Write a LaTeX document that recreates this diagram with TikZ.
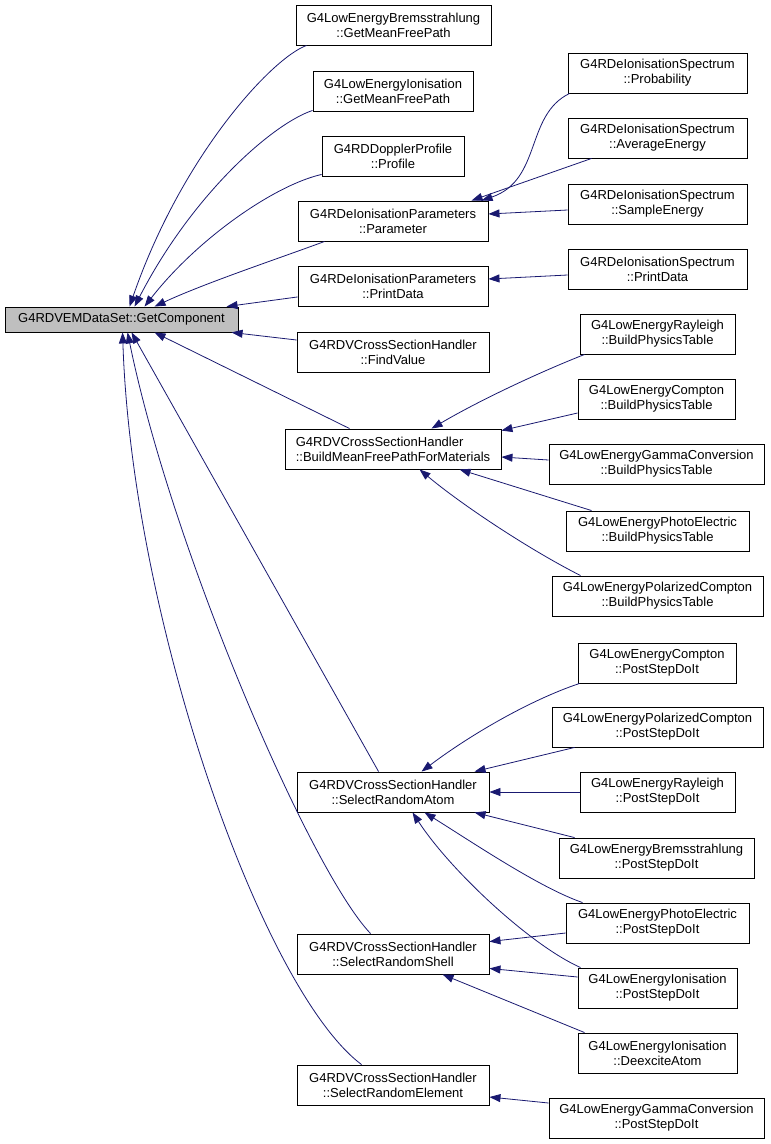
\documentclass[tikz,border=0pt]{standalone}
\usepackage{fontspec}
\setmainfont{Liberation Sans}
\usetikzlibrary{arrows.meta,calc}
\definecolor{edgeblue}{HTML}{191970}
\definecolor{maingray}{HTML}{BFBFBF}
\begin{document}
\begin{tikzpicture}[x=1pt,y=-1pt,
 box/.style={draw=black, line width=0.9pt, fill=white, inner sep=0pt, align=center,
   minimum height=40pt, font=\fontsize{13}{15}\selectfont},
 edge/.style={draw=edgeblue, line width=0.8pt, -{Triangle[length=11pt,width=8pt]}}]
\useasboundingbox (0,0) rectangle (771,1144);

% main node
\node[box, fill=maingray, minimum width=233pt, minimum height=25pt] (main) at (121.5,319.5) {G4RDVEMDataSet::GetComponent};

% column 2
\node[box, minimum width=195pt] (bremsG) at (393.5,25) {G4LowEnergyBremsstrahlung\\::GetMeanFreePath};
\node[box, minimum width=160pt] (ionG) at (393,91) {G4LowEnergyIonisation\\::GetMeanFreePath};
\node[box, minimum width=142pt] (dopp) at (393,156) {G4RDDopplerProfile\\::Profile};
\node[box, minimum width=190pt] (param) at (393,221) {G4RDeIonisationParameters\\::Parameter};
\node[box, minimum width=190pt] (ppd) at (393,286.5) {G4RDeIonisationParameters\\::PrintData};
\node[box, minimum width=192pt] (findv) at (393,352) {G4RDVCrossSectionHandler\\::FindValue};
\node[box, minimum width=216pt, align=left] (bmfp) at (393,449) {G4RDVCrossSectionHandler\\::BuildMeanFreePathForMaterials};
\node[box, minimum width=192pt] (sra) at (393,792) {G4RDVCrossSectionHandler\\::SelectRandomAtom};
\node[box, minimum width=192pt] (srs) at (393,954) {G4RDVCrossSectionHandler\\::SelectRandomShell};
\node[box, minimum width=192pt] (sre) at (393,1085) {G4RDVCrossSectionHandler\\::SelectRandomElement};

% column 3
\node[box, minimum width=179pt] (prob) at (657.5,73) {G4RDeIonisationSpectrum\\::Probability};
\node[box, minimum width=179pt] (aveE) at (657.5,138) {G4RDeIonisationSpectrum\\::AverageEnergy};
\node[box, minimum width=179pt] (sampE) at (657.5,204) {G4RDeIonisationSpectrum\\::SampleEnergy};
\node[box, minimum width=179pt] (specPD) at (657.5,269) {G4RDeIonisationSpectrum\\::PrintData};
\node[box, minimum width=155pt] (rayB) at (657.5,334) {G4LowEnergyRayleigh\\::BuildPhysicsTable};
\node[box, minimum width=157pt] (compB) at (656.5,399) {G4LowEnergyCompton\\::BuildPhysicsTable};
\node[box, minimum width=215pt] (gamB) at (656.5,464) {G4LowEnergyGammaConversion\\::BuildPhysicsTable};
\node[box, minimum width=183pt] (photB) at (657.5,531) {G4LowEnergyPhotoElectric\\::BuildPhysicsTable};
\node[box, minimum width=211pt] (polB) at (657.5,596) {G4LowEnergyPolarizedCompton\\::BuildPhysicsTable};
\node[box, minimum width=158pt] (compP) at (657,663) {G4LowEnergyCompton\\::PostStepDoIt};
\node[box, minimum width=211pt] (polP) at (657.5,727) {G4LowEnergyPolarizedCompton\\::PostStepDoIt};
\node[box, minimum width=155pt] (rayP) at (657.5,792) {G4LowEnergyRayleigh\\::PostStepDoIt};
\node[box, minimum width=195pt] (bremP) at (656.5,858) {G4LowEnergyBremsstrahlung\\::PostStepDoIt};
\node[box, minimum width=183pt] (photP) at (657.5,923) {G4LowEnergyPhotoElectric\\::PostStepDoIt};
\node[box, minimum width=159pt] (ionP) at (657.5,988) {G4LowEnergyIonisation\\::PostStepDoIt};
\node[box, minimum width=159pt] (deex) at (657.5,1053) {G4LowEnergyIonisation\\::DeexciteAtom};
\node[box, minimum width=215pt] (gamP) at (656.5,1118) {G4LowEnergyGammaConversion\\::PostStepDoIt};

% edges into main
\draw[edge] ($(bremsG.south west)+(11,0)$) .. controls (272,58) and (182,155) .. ($(main.north west)+(125,0)$);
\draw[edge] ($(ionG.south west)+(0,-1)$) .. controls (272,124) and (192,195) .. ($(main.north west)+(130,0)$);
\draw[edge] ($(dopp.south west)+(0,-2)$) .. controls (275,185) and (198,238) .. ($(main.north west)+(140,0)$);
\draw[edge] ($(param.south west)+(27,0)$) .. controls (280,258) and (205,283) .. ($(main.north west)+(150,0)$);
\draw[edge] ($(ppd.south west)+(0,-10)$) -- ($(main.north west)+(222,0)$);
\draw[edge] ($(findv.west)+(0,-12)$) -- ($(main.south west)+(227,0)$);
\draw[edge] ($(bmfp.north west)+(65,0)$) -- ($(main.south west)+(150,0)$);
\draw[edge] ($(sra.north west)+(82,0)$) -- ($(main.south west)+(127,0)$);
\draw[edge] ($(srs.north west)+(74,0)$) .. controls (310,870) and (172,550) .. ($(main.south west)+(123,0)$);
\draw[edge] ($(sre.north west)+(65,0)$) .. controls (262,990) and (132,620) .. ($(main.south west)+(118,0)$);

% edges into Parameter / PrintData
\draw[edge] ($(prob.south west)+(2,0)$) .. controls (525,115) and (542,180) .. ($(param.north west)+(184,0)$);
\draw[edge] ($(aveE.south west)+(24,0)$) -- ($(param.north west)+(174,0)$);
\draw[edge] ($(sampE.west)+(0,6)$) -- ($(param.east)+(0,-7)$);
\draw[edge] ($(specPD.west)+(0,6)$) -- ($(ppd.east)+(0,-7.5)$);

% edges into BuildMeanFreePathForMaterials
\draw[edge] ($(rayB.south west)+(5,0)$) .. controls (540,372) and (480,400) .. ($(bmfp.north west)+(147,0)$);
\draw[edge] ($(compB.west)+(0,14)$) -- ($(bmfp.north east)+(0,2)$);
\draw[edge] ($(gamB.west)+(0,-4)$) -- ($(bmfp.east)+(0,8)$);
\draw[edge] ($(photB.north west)+(26,0)$) -- ($(bmfp.south west)+(175,0)$);
\draw[edge] ($(polB.north west)+(29,0)$) .. controls (530,550) and (462,505) .. ($(bmfp.south west)+(135,0)$);

% edges into SelectRandomAtom
\draw[edge] ($(compP.south west)+(2,0)$) .. controls (530,700) and (470,735) .. ($(sra.north west)+(125,0)$);
\draw[edge] ($(polP.south west)+(23,0)$) -- ($(sra.north west)+(178,0)$);
\draw[edge] (rayP.west) -- (sra.east);
\draw[edge] ($(bremP.north west)+(16,0)$) -- ($(sra.south west)+(178,0)$);
\draw[edge] ($(photP.north west)+(17,0)$) .. controls (540,888) and (472,842) .. ($(sra.south west)+(128,0)$);
\draw[edge] ($(ionP.north west)+(3,0)$) .. controls (530,945) and (450,870) .. ($(sra.south west)+(116,0)$);

% edges into SelectRandomShell
\draw[edge] ($(photP.west)+(0,10)$) -- ($(srs.north east)+(0,8)$);
\draw[edge] ($(ionP.west)+(0,-11)$) -- ($(srs.south east)+(0,-6)$);
\draw[edge] ($(deex.north west)+(7,0)$) -- ($(srs.south west)+(146,0)$);

% edge into SelectRandomElement
\draw[edge] ($(gamP.west)+(0,-15)$) -- ($(sre.east)+(0,12)$);
\end{tikzpicture}
\end{document}
